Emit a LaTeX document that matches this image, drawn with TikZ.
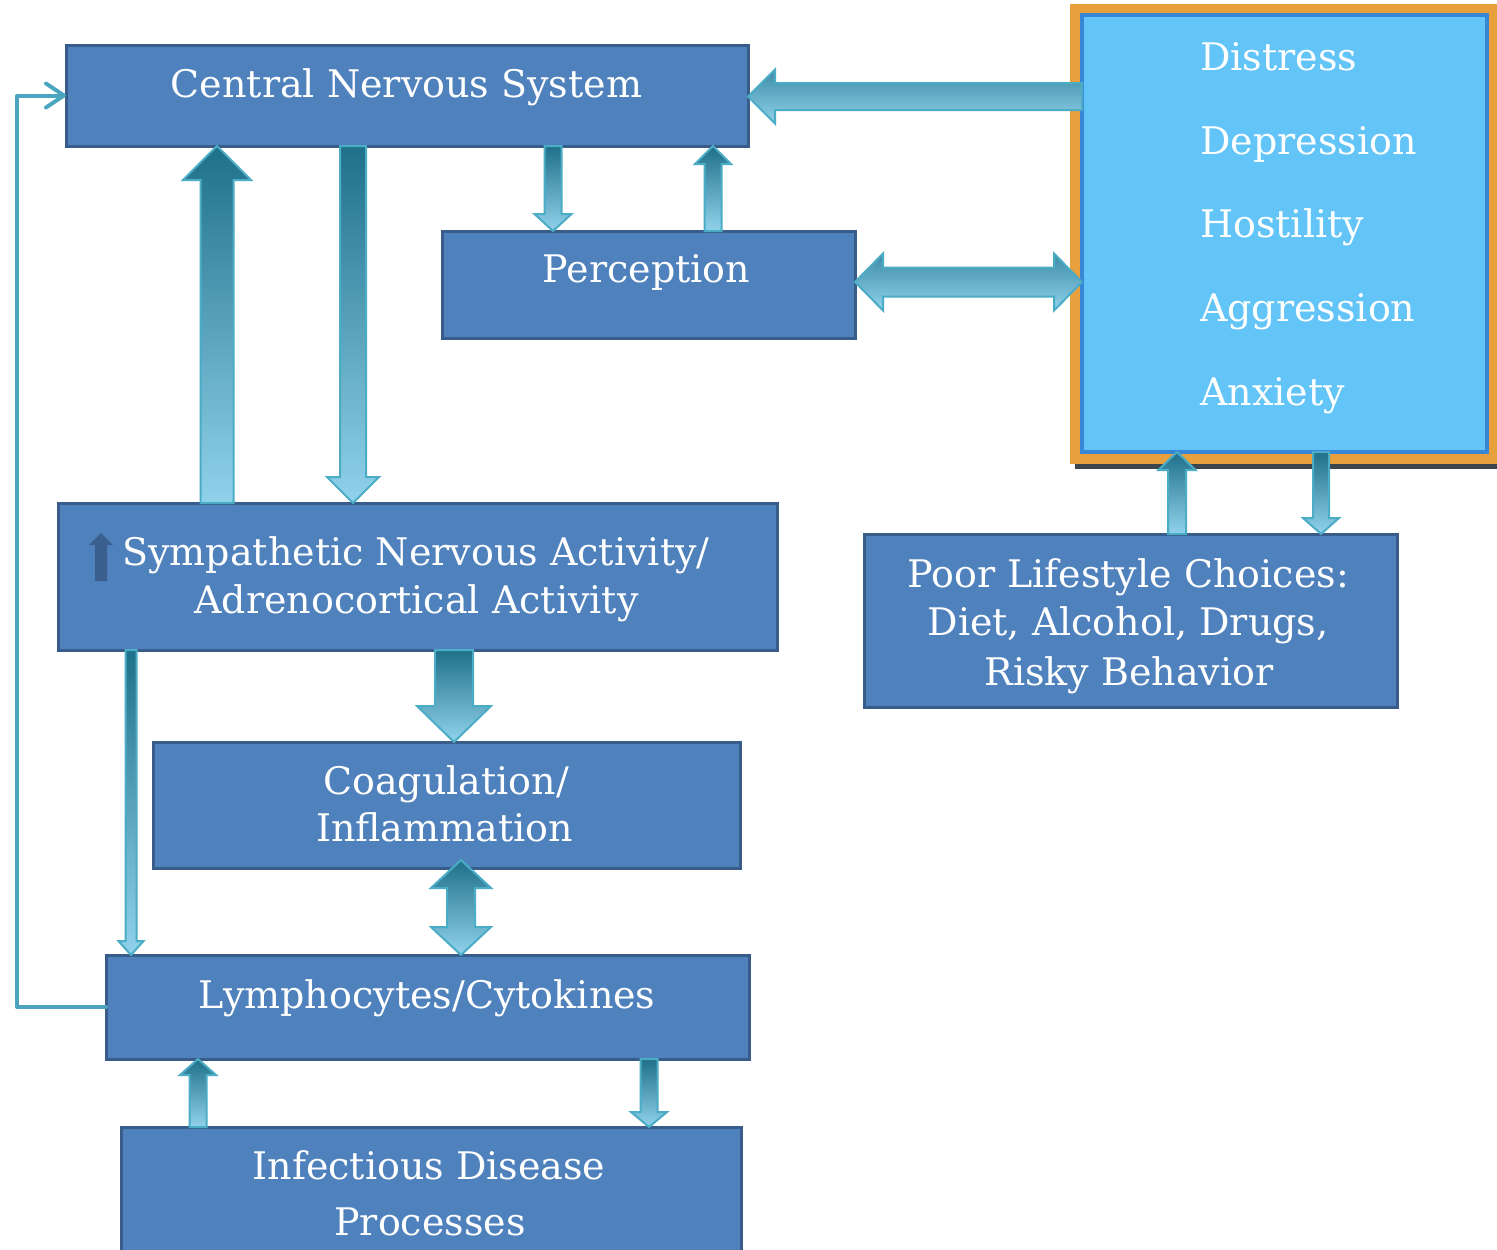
\documentclass[tikz,border=0pt]{standalone}
\usepackage{fontspec}
\setmainfont{DejaVu Serif}
\usetikzlibrary{calc,arrows.meta}
\definecolor{boxfill}{RGB}{79,129,189}
\definecolor{boxline}{RGB}{56,93,138}
\definecolor{arrline}{RGB}{75,172,198}
\definecolor{arrdark}{RGB}{31,112,138}
\definecolor{arrlight}{RGB}{145,210,235}
\definecolor{hdark}{RGB}{60,140,168}
\definecolor{orangeb}{RGB}{232,160,60}
\definecolor{emofill}{RGB}{99,196,247}
\definecolor{emoline}{RGB}{56,135,215}
\definecolor{shadowc}{RGB}{58,70,76}
\definecolor{fbline}{RGB}{75,165,190}
\definecolor{glyphc}{RGB}{58,95,143}
\tikzset{
 box/.style={draw=boxline, fill=boxfill, line width=3pt, inner sep=0pt, outer sep=0pt},
 lbl/.style={text=white, font=\fontsize{38}{48}\selectfont, anchor=base, inner sep=0pt, align=center},
 varrow/.style={draw=arrline, line width=2pt, top color=arrdark, bottom color=arrlight},
 harrow/.style={draw=arrline, line width=2pt, top color=hdark, bottom color=arrlight},
 fb/.style={draw=fbline, line width=4pt, line cap=round, line join=round, -{Straight Barb[round,length=18pt,width=24pt]}}
}
% vertical up arrow: #1 x, #2 bottom anchor, #3 top anchor, #4 half shaft, #5 half head, #6 head length
\newcommand\uparr[6]{\path[varrow] let \p1=(#2), \p2=(#3), \p3=(#1,0) in
 (\x3-#4pt,\y1) -- (\x3-#4pt,\y2-#6pt) -- (\x3-#5pt,\y2-#6pt) -- (\x3,\y2) -- (\x3+#5pt,\y2-#6pt) -- (\x3+#4pt,\y2-#6pt) -- (\x3+#4pt,\y1) -- cycle;}
\newcommand\dnarr[6]{\path[varrow] let \p1=(#2), \p2=(#3), \p3=(#1,0) in
 (\x3-#4pt,\y2) -- (\x3-#4pt,\y1+#6pt) -- (\x3-#5pt,\y1+#6pt) -- (\x3,\y1) -- (\x3+#5pt,\y1+#6pt) -- (\x3+#4pt,\y1+#6pt) -- (\x3+#4pt,\y2) -- cycle;}
\newcommand\udarr[6]{\path[varrow] let \p1=(#2), \p2=(#3), \p3=(#1,0) in
 (\x3,\y2) -- (\x3+#5pt,\y2-#6pt) -- (\x3+#4pt,\y2-#6pt) -- (\x3+#4pt,\y1+#6pt) -- (\x3+#5pt,\y1+#6pt) -- (\x3,\y1) -- (\x3-#5pt,\y1+#6pt) -- (\x3-#4pt,\y1+#6pt) -- (\x3-#4pt,\y2-#6pt) -- (\x3-#5pt,\y2-#6pt) -- cycle;}
% horizontal left arrow: #1 y, #2 tip (left) anchor, #3 tail (right) anchor
\newcommand\lfarr[6]{\path[harrow] let \p1=(#2), \p2=(#3), \p3=(0,#1) in
 (\x2,\y3+#4pt) -- (\x1+#6pt,\y3+#4pt) -- (\x1+#6pt,\y3+#5pt) -- (\x1,\y3) -- (\x1+#6pt,\y3-#5pt) -- (\x1+#6pt,\y3-#4pt) -- (\x2,\y3-#4pt) -- cycle;}
\newcommand\lrarr[6]{\path[harrow] let \p1=(#2), \p2=(#3), \p3=(0,#1) in
 (\x1,\y3) -- (\x1+#6pt,\y3+#5pt) -- (\x1+#6pt,\y3+#4pt) -- (\x2-#6pt,\y3+#4pt) -- (\x2-#6pt,\y3+#5pt) -- (\x2,\y3) -- (\x2-#6pt,\y3-#5pt) -- (\x2-#6pt,\y3-#4pt) -- (\x1+#6pt,\y3-#4pt) -- (\x1+#6pt,\y3-#5pt) -- cycle;}
\begin{document}
\begin{tikzpicture}[x=1pt,y=-1pt]
\useasboundingbox (0,0) rectangle (1497,1250);
\fill[white] (0,0) rectangle (1497,1250);
% boxes
\node[box, minimum width=682, minimum height=101] (cns) at (407,95.5) {};
\node[box, minimum width=413, minimum height=107] (perc) at (648.5,284.5) {};
\fill[shadowc] (1075,9) rectangle (1502,469);
\node[fill=orangeb, inner sep=0pt, outer sep=0pt, minimum width=427, minimum height=460] (emoo) at (1283.5,234) {};
\node[draw=emoline, fill=emofill, line width=4pt, inner sep=0pt, outer sep=0pt, minimum width=405, minimum height=437] (emo) at (1284.5,233.5) {};
\node[box, minimum width=719, minimum height=147] (symp) at (417.5,576.5) {};
\node[box, minimum width=533, minimum height=173] (poor) at (1130.5,620.5) {};
\node[box, minimum width=587, minimum height=126] (coag) at (446.5,805) {};
\node[box, minimum width=643, minimum height=104] (lymph) at (427.5,1007) {};
\node[box, minimum width=620, minimum height=140] (inf) at (431,1197) {};
% labels
\node[lbl] (tcns) at (406.5,97) {Central Nervous System};
\node[lbl] (tperc) at (646.5,282) {Perception};
\node[lbl, anchor=base west] (t1) at (1200,70) {Distress};
\node[lbl, anchor=base west] (t2) at (1200,154) {Depression};
\node[lbl, anchor=base west] (t3) at (1200,237.5) {Hostility};
\node[lbl, anchor=base west] (t4) at (1200,321) {Aggression};
\node[lbl, anchor=base west] (t5) at (1200,405) {Anxiety};
\node[lbl] (tsymp1) at (416,565) {Sympathetic Nervous Activity/};
\node[lbl] (tsymp2) at (416.5,613) {Adrenocortical Activity};
\fill[glyphc] (95,581) -- (95,545) -- (89,545) -- (101,533) -- (113,545) -- (107,545) -- (107,581) -- cycle;
\node[lbl] (tpoor1) at (1128,587) {Poor Lifestyle Choices:};
\node[lbl] (tpoor2) at (1128,635) {Diet, Alcohol, Drugs,};
\node[lbl] (tpoor3) at (1129,685) {Risky Behavior};
\node[lbl] (tcoag1) at (446,794) {Coagulation/};
\node[lbl] (tcoag2) at (444.5,841) {Inflammation};
\node[lbl] (tlymph) at (427,1008) {Lymphocytes/Cytokines};
\node[lbl] (tinf1) at (429,1179) {Infectious Disease};
\node[lbl] (tinf2) at (430,1235) {Processes};
% block arrows
\lfarr{96.5}{cns.east}{emo.west}{13.5}{27}{27}
\dnarr{553}{perc.north}{cns.south}{8.5}{18.5}{17}
\uparr{713}{perc.north}{cns.south}{8.5}{18}{18}
\lrarr{282}{perc.east}{emo.west}{14.5}{28.5}{28}
\uparr{217}{symp.north}{cns.south}{16.5}{34}{34}
\dnarr{353}{symp.north}{cns.south}{13}{26}{26}
\dnarr{454}{coag.north}{symp.south}{19}{37}{36}
\udarr{461}{lymph.north}{$(coag.south)+(0,-8)$}{14}{30}{28}
\dnarr{131}{lymph.north}{symp.south}{5.5}{12.5}{14}
\uparr{1177}{poor.north}{emo.south}{9}{18.5}{18}
\dnarr{1321}{poor.north}{emo.south}{8}{18}{16}
\uparr{198}{inf.north}{lymph.south}{8.5}{18}{16}
\dnarr{649}{inf.north}{lymph.south}{8.5}{18}{15}
% feedback line
\coordinate (fbx) at (17,0);
\draw[fb] (lymph.west) -- (lymph.west -| fbx) |- (cns.west);
\end{tikzpicture}
\end{document}
